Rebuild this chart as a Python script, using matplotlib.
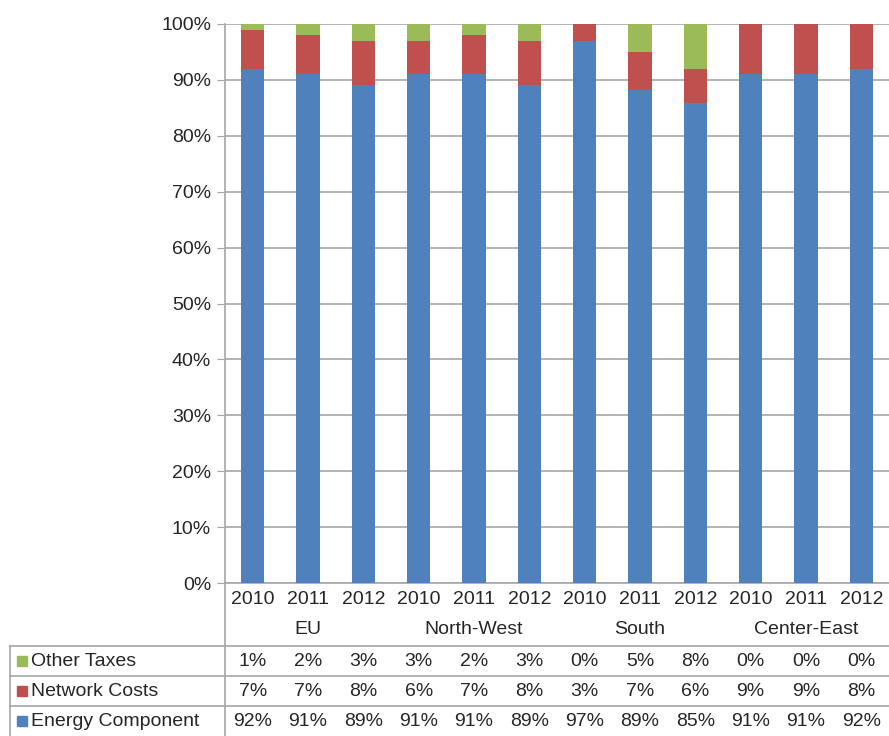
import matplotlib.pyplot as plt
import matplotlib.transforms as mtransforms
import numpy as np

plt.rcParams['font.family'] = ['Liberation Sans', 'DejaVu Sans']

years = ['2010', '2011', '2012'] * 4
regions = ['EU', 'North-West', 'South', 'Center-East']
series_names = ['Other Taxes', 'Network Costs', 'Energy Component']
other_taxes = [1, 2, 3, 3, 2, 3, 0, 5, 8, 0, 0, 0]
network_costs = [7, 7, 8, 6, 7, 8, 3, 7, 6, 9, 9, 8]
energy_component = [92, 91, 89, 91, 91, 89, 97, 89, 85, 91, 91, 92]

blue = '#4F81BD'
red = '#C0504D'
green = '#9BBB59'
grid_col = '#A6A6A6'
txt_col = '#262626'
fs = 14

W, H = 889, 736
fig = plt.figure(figsize=(W / 100, H / 100), dpi=100)


def fy(py):
    return 1 - py / H


def fx(px):
    return px / W


ax = fig.add_axes([fx(225), fy(583), 1 - fx(225), fy(24) - fy(583)])

x = np.arange(len(years))
energy = np.array(energy_component, float)
network = np.array(network_costs, float)
other = np.array(other_taxes, float)
total = energy + network + other
e_pct = energy / total * 100
n_pct = network / total * 100
o_pct = other / total * 100

bw = 0.42
ax.bar(x, e_pct, bw, color=blue, zorder=3)
ax.bar(x, n_pct, bw, bottom=e_pct, color=red, zorder=3)
ax.bar(x, o_pct, bw, bottom=e_pct + n_pct, color=green, zorder=3)

ax.set_xlim(-0.5, len(years) - 0.5)
ax.set_ylim(0, 100)
ax.set_yticks(np.arange(0, 101, 10))
ax.set_yticklabels([f'{v}%' for v in range(0, 101, 10)], fontsize=fs, color=txt_col)
ax.yaxis.grid(True, color=grid_col, linewidth=1.2, zorder=0)
ax.tick_params(axis='y', length=6, color=grid_col, pad=4)
ax.set_xticks([])
for s in ['top', 'right']:
    ax.spines[s].set_visible(False)
for s in ['left', 'bottom']:
    ax.spines[s].set_color(grid_col)
    ax.spines[s].set_linewidth(1.2)

# data table under the plot: x in data units, y in figure units
trans = mtransforms.blended_transform_factory(ax.transData, fig.transFigure)
for i, yr in enumerate(years):
    ax.text(i, fy(599), yr, transform=trans, ha='center', va='center', fontsize=fs, color=txt_col)
for j, reg in enumerate(regions):
    ax.text(3 * j + 1, fy(630), reg, transform=trans, ha='center', va='center', fontsize=fs, color=txt_col)

rows = [(series_names[0], green, other_taxes, 661),
        (series_names[1], red, network_costs, 691),
        (series_names[2], blue, energy_component, 721)]
for name, col, vals, py in rows:
    fig.text(fx(31), fy(py), name, ha='left', va='center', fontsize=fs, color=txt_col)
    fig.patches.append(plt.Rectangle((fx(17), fy(py + 5)), fx(10), 10 / H, color=col,
                                     transform=fig.transFigure, figure=fig))
    for i, v in enumerate(vals):
        ax.text(i, fy(py), f'{v}%', transform=trans, ha='center', va='center', fontsize=fs, color=txt_col)

line_kw = dict(color=grid_col, linewidth=1.2, transform=fig.transFigure, clip_on=False)
for py in [646, 676, 706]:
    fig.add_artist(plt.Line2D([fx(10), 1], [fy(py), fy(py)], **line_kw))
fig.add_artist(plt.Line2D([fx(225), fx(225)], [fy(583), 0], **line_kw))
fig.add_artist(plt.Line2D([fx(10), fx(10)], [fy(646), 0], **line_kw))

fig.savefig('out.png', dpi=100)
